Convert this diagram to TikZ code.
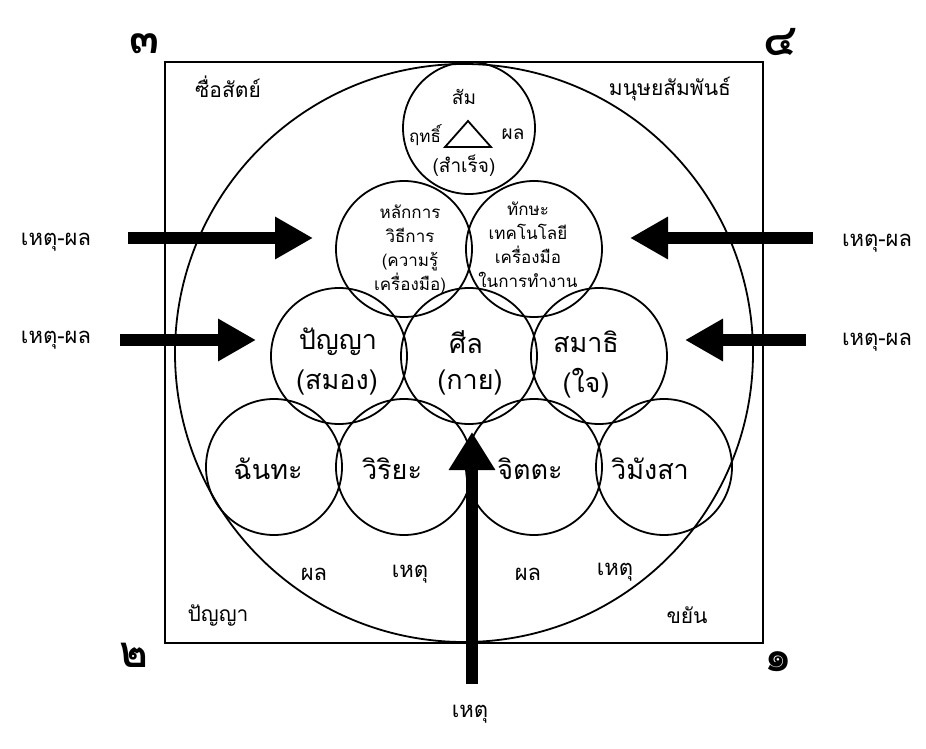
\documentclass[tikz,border=0pt]{standalone}
\usepackage{fontspec}
\newfontfamily\thai[Script=Thai]{Loma}
\usetikzlibrary{arrows.meta}
\begin{document}
\begin{tikzpicture}[x=1pt,y=-1pt,
  ring/.style={draw, circle, line width=1.8pt, minimum size=136pt, inner sep=0pt},
  bigring/.style={draw, circle, line width=1.8pt, minimum size=578pt, inner sep=0pt},
  frame/.style={draw, line width=2.4pt},
  big/.style={font=\thai\fontsize{27}{30}\selectfont, inner sep=0pt},
  mid/.style={font=\thai\fontsize{19}{22}\selectfont, inner sep=0pt},
  small/.style={font=\thai\fontsize{17}{24}\selectfont, inner sep=0pt, align=center},
  side/.style={font=\thai\fontsize{22}{24}\selectfont, inner sep=0pt},
  corner/.style={font=\thai\fontsize{21}{24}\selectfont, inner sep=0pt},
  digit/.style={font=\thai\bfseries\fontsize{44}{46}\selectfont, inner sep=0pt},
  bigarrow/.style={line width=12pt, -{Triangle[length=38pt,width=40pt]}},
]
\fill[white] (0,0) rectangle (926,749);
\useasboundingbox (0,0) rectangle (926,749);

% frame and big circle
\draw[frame] (165,62) rectangle (763,643);
\node[bigring] (outer) at (464,353) {};

% circles
\node[ring, minimum size=132pt] (top) at (469,128) {};
\node[ring] (r2a) at (404,249) {};
\node[ring] (r2b) at (534,249) {};
\node[ring] (r3a) at (339,356) {};
\node[ring] (r3b) at (469,356) {};
\node[ring] (r3c) at (599,356) {};
\node[ring] (r4a) at (274,467) {};
\node[ring] (r4b) at (404,467) {};
\node[ring] (r4c) at (534,467) {};
\node[ring] (r4d) at (664,467) {};

% top circle content
\node[mid] (sam) at (464,97) {สัม};
\node[mid, font=\thai\fontsize{17}{20}\selectfont] (rit) at (425,135) {ฤทธิ์};
\node[mid] (phon) at (513,134) {ผล};
\node[mid] (samret) at (464,166) {(สำเร็จ)};
\coordinate (tA) at (445,147);
\coordinate (tB) at (491,147);
\coordinate (tC) at (468,121);
\draw[line width=1.8pt] (tA) -- (tB) -- (tC) -- cycle;

% row 2
\node[small] (hlak) at (410,249) {หลักการ\\วิธีการ\\(ความรู้\\เครื่องมือ)};
\node[small] (thaksa) at (528,245) {ทักษะ\\เทคโนโลยี\\เครื่องมือ\\ในการทำงาน};

% row 3
\node[big] (panya) at (338,342) {ปัญญา};
\node[big] (samong) at (337,383) {(สมอง)};
\node[big] (sin) at (466,342) {ศีล};
\node[big] (kai) at (470,383) {(กาย)};
\node[big] (samathi) at (586,342) {สมาธิ};
\node[big] (jai) at (586,383) {(ใจ)};

% row 4
\node[big] (chan) at (268,469) {ฉันทะ};
\node[big] (wiri) at (392,469) {วิริยะ};
\node[big] (chit) at (530,469) {จิตตะ};
\node[big] (wimang) at (650,469) {วิมังสา};

% bottom labels
\node[side] (b1) at (314,574) {ผล};
\node[side] (b2) at (410,574) {เหตุ};
\node[side] (b3) at (528,574) {ผล};
\node[side] (b4) at (615,572) {เหตุ};
\node[corner] (corA) at (228,87) {ซื่อสัตย์};
\node[corner] (corB) at (670,89) {มนุษยสัมพันธ์};
\node[corner] (corC) at (218,615) {ปัญญา};
\node[corner] (corD) at (687,615) {ขยัน};

% corner digits
\node[digit] (d3) at (145,44) {๓};
\node[digit] (d4) at (780,42) {๔};
\node[digit] (d2) at (134,655) {๒};
\node[digit] (d1) at (778,662) {๑};

% side labels
\node[side] (lu) at (56,242) {เหตุ-ผล};
\node[side] (ll) at (56,340) {เหตุ-ผล};
\node[side] (ru) at (877,243) {เหตุ-ผล};
\node[side] (rl) at (877,342) {เหตุ-ผล};
\node[side] (bot) at (470,714) {เหตุ};

% arrows
\coordinate (a1s) at (128,238);
\coordinate (a1e) at (313,238);
\coordinate (a2s) at (120,340);
\coordinate (a2e) at (256,340);
\coordinate (a3s) at (813,238);
\coordinate (a3e) at (630,238);
\coordinate (a4s) at (806,340);
\coordinate (a4e) at (685,340);
\coordinate (a5s) at (472,684);
\coordinate (a5e) at (472,432);
\draw[bigarrow] (a1s) -- (a1e);
\draw[bigarrow] (a2s) -- (a2e);
\draw[bigarrow] (a3s) -- (a3e);
\draw[bigarrow] (a4s) -- (a4e);
\draw[bigarrow, -{Triangle[length=38pt,width=44pt]}] (a5s) -- (a5e);
\end{tikzpicture}
\end{document}
